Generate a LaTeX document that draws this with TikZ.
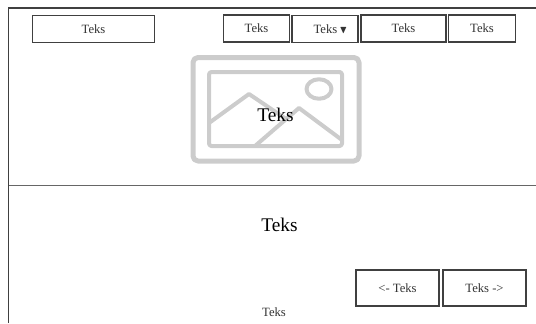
\documentclass[tikz,border=0pt]{standalone}
\usepackage{amssymb}
\usepackage{fontspec}
\setmainfont{Liberation Serif}
\usetikzlibrary{shapes.geometric}
\tikzset{
  btn/.style={draw=black!75,line width=0.7pt,minimum height=0.54cm,inner sep=0pt,text=black!80,font=\fontsize{7.2}{9}\selectfont},
  thick line/.style={draw=black!20,line width=1mm,line join=round,rounded corners=1mm},
  thin line/.style={draw=black!20,line width=0.8mm,line join=round},
  big/.style={font=\fontsize{11}{14}\selectfont}
}

\begin{document}
\begin{tikzpicture}

\useasboundingbox (0,0) rectangle (10.72,6.46);

\coordinate (tl) at (0.17,6.30);
\coordinate (bl) at (0.17,0);
\coordinate (tr) at (10.72,6.30);
\coordinate (ml) at (0.17,2.75);
\coordinate (mr) at (10.72,2.75);

\draw[black!75,line width=0.7pt] (bl) -- (tl) -- (tr);
\draw[black!60,line width=0.6pt] (ml) -- (mr);

% image placeholder
\draw[thick line] (3.86,5.31) rectangle (7.18,3.24);
\draw[thin line,rounded corners=0.5mm] (4.18,5.02) rectangle (6.84,3.54);
\draw[thin line] (4.18,4.00) -- (4.98,4.58) -- (5.72,4.08);
\draw[thin line] (5.10,3.54) -- (5.98,4.30) -- (6.84,3.66);
\node[thin line,ellipse,minimum width=0.50cm,minimum height=0.39cm,inner sep=0pt] (sun) at (6.38,4.68) {};

\node[btn,minimum width=2.45cm] (nav1) at (1.87,5.88) {Teks};
\node[btn,minimum width=1.32cm] (nav2) at (5.13,5.89) {Teks};
\node[btn,minimum width=1.32cm] (nav3) at (6.50,5.88) {\hspace*{0.22cm}Teks\,{\fontsize{6}{7}\selectfont$\blacktriangledown$}};
\node[btn,minimum width=1.70cm] (nav4) at (8.07,5.89) {Teks};
\node[btn,minimum width=1.34cm] (nav5) at (9.64,5.89) {Teks};

\node[big] (title) at (5.51,4.16) {Teks};
\node[big] (body) at (5.59,1.96) {Teks};
\node[text=black!80,font=\fontsize{7.2}{9}\selectfont] (foot) at (5.48,0.22) {Teks};

\node[btn,minimum width=1.66cm,minimum height=0.72cm] (prev) at (7.95,0.70) {<- Teks};
\node[btn,minimum width=1.66cm,minimum height=0.72cm] (next) at (9.69,0.70) {Teks ->};

\end{tikzpicture}
\end{document}
